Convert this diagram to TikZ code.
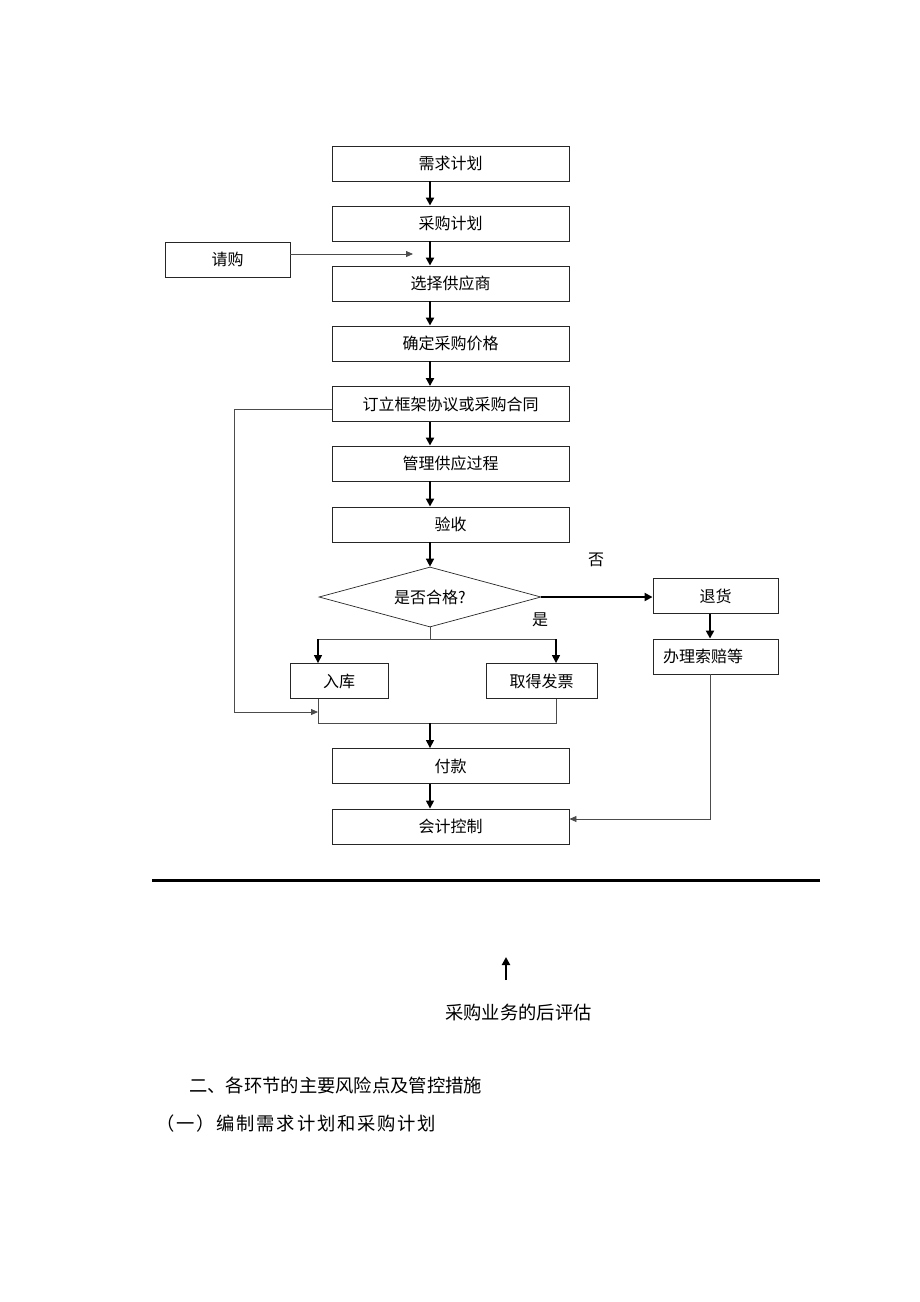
\documentclass[tikz,border=0pt]{standalone}
\usepackage{fontspec}
\setmainfont{Noto Sans CJK SC}
\usepackage{tikz}
\usetikzlibrary{arrows.meta,shapes.geometric}

\begin{document}
\begin{tikzpicture}[x=1pt,y=-1pt,>={Triangle[length=8pt,width=8pt]},
    box/.style={draw=black!85, line width=0.9pt, minimum width=237pt, minimum height=35pt,
        inner sep=0pt, font=\fontsize{16}{16}\selectfont},
    sidebox/.style={box, minimum width=125pt},
    flow/.style={->, line width=2.2pt},
    flowlite/.style={->, line width=1.5pt},
    link/.style={line width=0.8pt, draw=black!70},
    thinarrow/.style={link, ->, >={Triangle[length=7pt,width=6pt]}},
    label/.style={font=\fontsize{16}{16}\selectfont},
    body/.style={font=\fontsize{18.3}{18.3}\selectfont, inner sep=0pt}]
\useasboundingbox (0,0) rectangle (920,1302);
% main column
\foreach \name/\y/\txt in {need/163.5/需求计划, plan/223.5/采购计划, supp/283.5/选择供应商,
    price/343.5/确定采购价格, contr/404/订立框架协议或采购合同, manage/463.5/管理供应过程,
    accept/524.5/验收, pay/766/付款, acct/826.5/会计控制}
    \node[box] (\name) at (450.5,\y) {\txt};
\node[draw=black!85, line width=0.7pt, diamond, aspect=3.7, minimum width=222pt, minimum height=60pt,
    inner sep=0pt, font=\fontsize{16}{16}\selectfont] (ok) at (430,597) {是否合格?};
% side boxes
\node[sidebox] (req) at (227.5,259.5) {请购};
\node[sidebox] (ret) at (715.5,596) {退货};
\node[sidebox, text width=105pt, align=left] (claim) at (715.5,656.5) {办理索赔等};
\node[box, minimum width=98pt] (store) at (339,681) {入库};
\node[box, minimum width=111pt] (invoice) at (541.5,681) {取得发票};
\node[label] (no) at (596,560) {否};
\node[label] (yes) at (540,620) {是};
% arrows
\foreach \a/\b in {need/plan, plan/supp, supp/price, price/contr, contr/manage, manage/accept}
    \draw[flow] (\a.south -| ok) -- (\b.north -| ok);
\draw[flowlite] (accept.south -| ok) -- (ok.north);
\coordinate (reqin) at (413,254);
\draw[thinarrow] (req.east |- reqin) -- (reqin);
\draw[flow] (ok.east) -- (ok.east -| ret.west);
\draw[flow] ([xshift=-5.5pt]ret.south) -- ([xshift=-5.5pt]claim.north);
\draw[thinarrow] ([xshift=-5.5pt]claim.south) |- ([yshift=7.5pt]acct.east);
\coordinate (splitL) at (318,639);
\coordinate (splitR) at (556,639);
\draw[link] (ok.south) -- (ok.south |- splitL);
\draw[link] (splitL) -- (splitR);
\draw[flowlite] (splitL) -- (splitL |- store.north);
\draw[flowlite] (splitR) -- (splitR |- invoice.north);
\coordinate (mergeL) at (318,723);
\coordinate (mergeR) at (556,723);
\draw[link] (store.south -| mergeL) -- (mergeL) -- (mergeR) -- (invoice.south -| mergeR);
\draw[flowlite] (mergeL -| ok) -- (pay.north -| ok);
\draw[flowlite] (pay.south -| ok) -- (acct.north -| ok);
\coordinate (loopin) at (318,712);
\draw[thinarrow] ([yshift=-5pt]contr.west) -- ++(-97,0) |- (loopin);
% text below
\draw[line width=3pt] (152,880) -- (820,880);
\coordinate (evlow) at (506,980);
\coordinate (evtip) at (506,957);
\draw[flow, line width=2pt] (evlow) -- (evtip);
\node[body] (eval) at (518.5,1013) {采购业务的后评估};
\node[body, anchor=west] (sec) at (189,1085) {二、各环节的主要风险点及管控措施};
\node[body, anchor=west] (subsec) at (156,1124) {\addfontfeature{LetterSpace=10}（一）编制需求计划和采购计划};
\end{tikzpicture}
\end{document}
